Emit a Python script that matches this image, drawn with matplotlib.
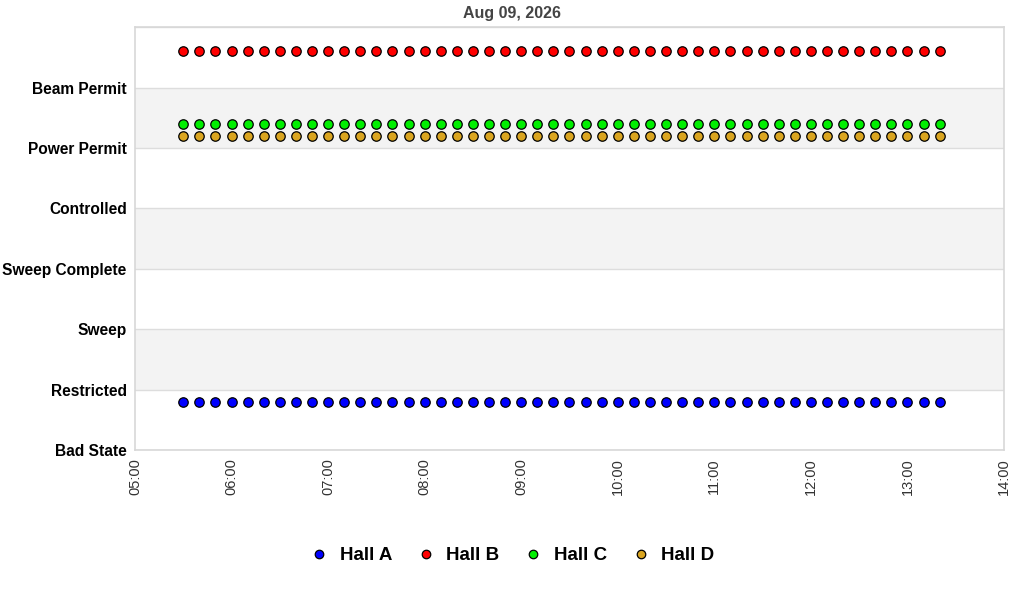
import matplotlib
matplotlib.use("Agg")
import matplotlib.pyplot as plt
import matplotlib.dates as mdates
from datetime import datetime

plt.rcParams['font.family'] = ['Liberation Sans', 'DejaVu Sans']

# y axis states, bottom to top
states = ["Bad State", "Restricted", "Sweep", "Sweep Complete",
          "Controlled", "Power Permit", "Beam Permit"]

# sample times (10 minute readings)
times = ["05:30", "05:40", "05:50", "06:00", "06:10", "06:20", "06:30", "06:40",
         "06:50", "07:00", "07:10", "07:20", "07:30", "07:40", "07:50", "08:00",
         "08:10", "08:20", "08:30", "08:40", "08:50", "09:00", "09:10", "09:20",
         "09:30", "09:40", "09:50", "10:00", "10:10", "10:20", "10:30", "10:40",
         "10:50", "11:00", "11:10", "11:20", "11:30", "11:40", "11:50", "12:00",
         "12:10", "12:20", "12:30", "12:40", "12:50", "13:00", "13:10", "13:20"]

# each hall stays in one state all morning (plotted with a small offset)
hall_names = ["Hall A", "Hall B", "Hall C", "Hall D"]
hall_levels = [0.8, 6.6, 5.4, 5.2]
hall_colors = ["#0000ff", "#ff0000", "#00ee00", "#daa520"]

day = "2026-08-09"
x = [datetime.strptime(day + " " + t, "%Y-%m-%d %H:%M") for t in times]

fig = plt.figure(figsize=(10.24, 6), dpi=100)
ax = fig.add_axes([0.1318, 0.25, 0.9805 - 0.1318, 0.9545 - 0.25])

# alternating bands
for lo in [1, 3, 5]:
    ax.axhspan(lo, lo + 1, color="#f3f3f3", zorder=0, lw=0)
for k in range(len(states) + 1):
    ax.axhline(k, color="#dddddd", lw=1, zorder=1)

for name, lvl, col in zip(hall_names, hall_levels, hall_colors):
    ax.plot(x, [lvl] * len(x), linestyle="none", marker="o", markersize=6.8,
            markerfacecolor=col, markeredgecolor="black", markeredgewidth=0.9,
            label=name, zorder=3)

ax.set_ylim(0, 7)
ax.set_yticks(range(len(states)))
ax.set_yticklabels(states, fontsize=11.2, fontweight="bold")
ax.set_xlim(datetime.strptime(day + " 05:00", "%Y-%m-%d %H:%M"),
            datetime.strptime(day + " 14:00", "%Y-%m-%d %H:%M"))
ax.xaxis.set_major_locator(mdates.HourLocator())
ax.xaxis.set_major_formatter(mdates.DateFormatter("%H:%M"))
plt.setp(ax.get_xticklabels(), rotation=90, fontsize=10.5, color="#333333")
ax.tick_params(axis="y", length=0, pad=6)
ax.tick_params(axis="x", length=0, pad=6)

for s in ax.spines.values():
    s.set_color("#d8d8d8")
    s.set_linewidth(1.2)

fig.text(0.5, 0.978, "Aug 09, 2026", ha="center", va="center",
         fontsize=11.5, fontweight="bold", color="#444444")

fig.legend(loc="center", bbox_to_anchor=(0.5, 0.074), ncol=4, frameon=False,
           prop={"size": 13.5, "weight": "bold"}, handlelength=1.0,
           handletextpad=0.6, columnspacing=1.3, markerscale=0.9)

fig.savefig("out.png", dpi=100)
